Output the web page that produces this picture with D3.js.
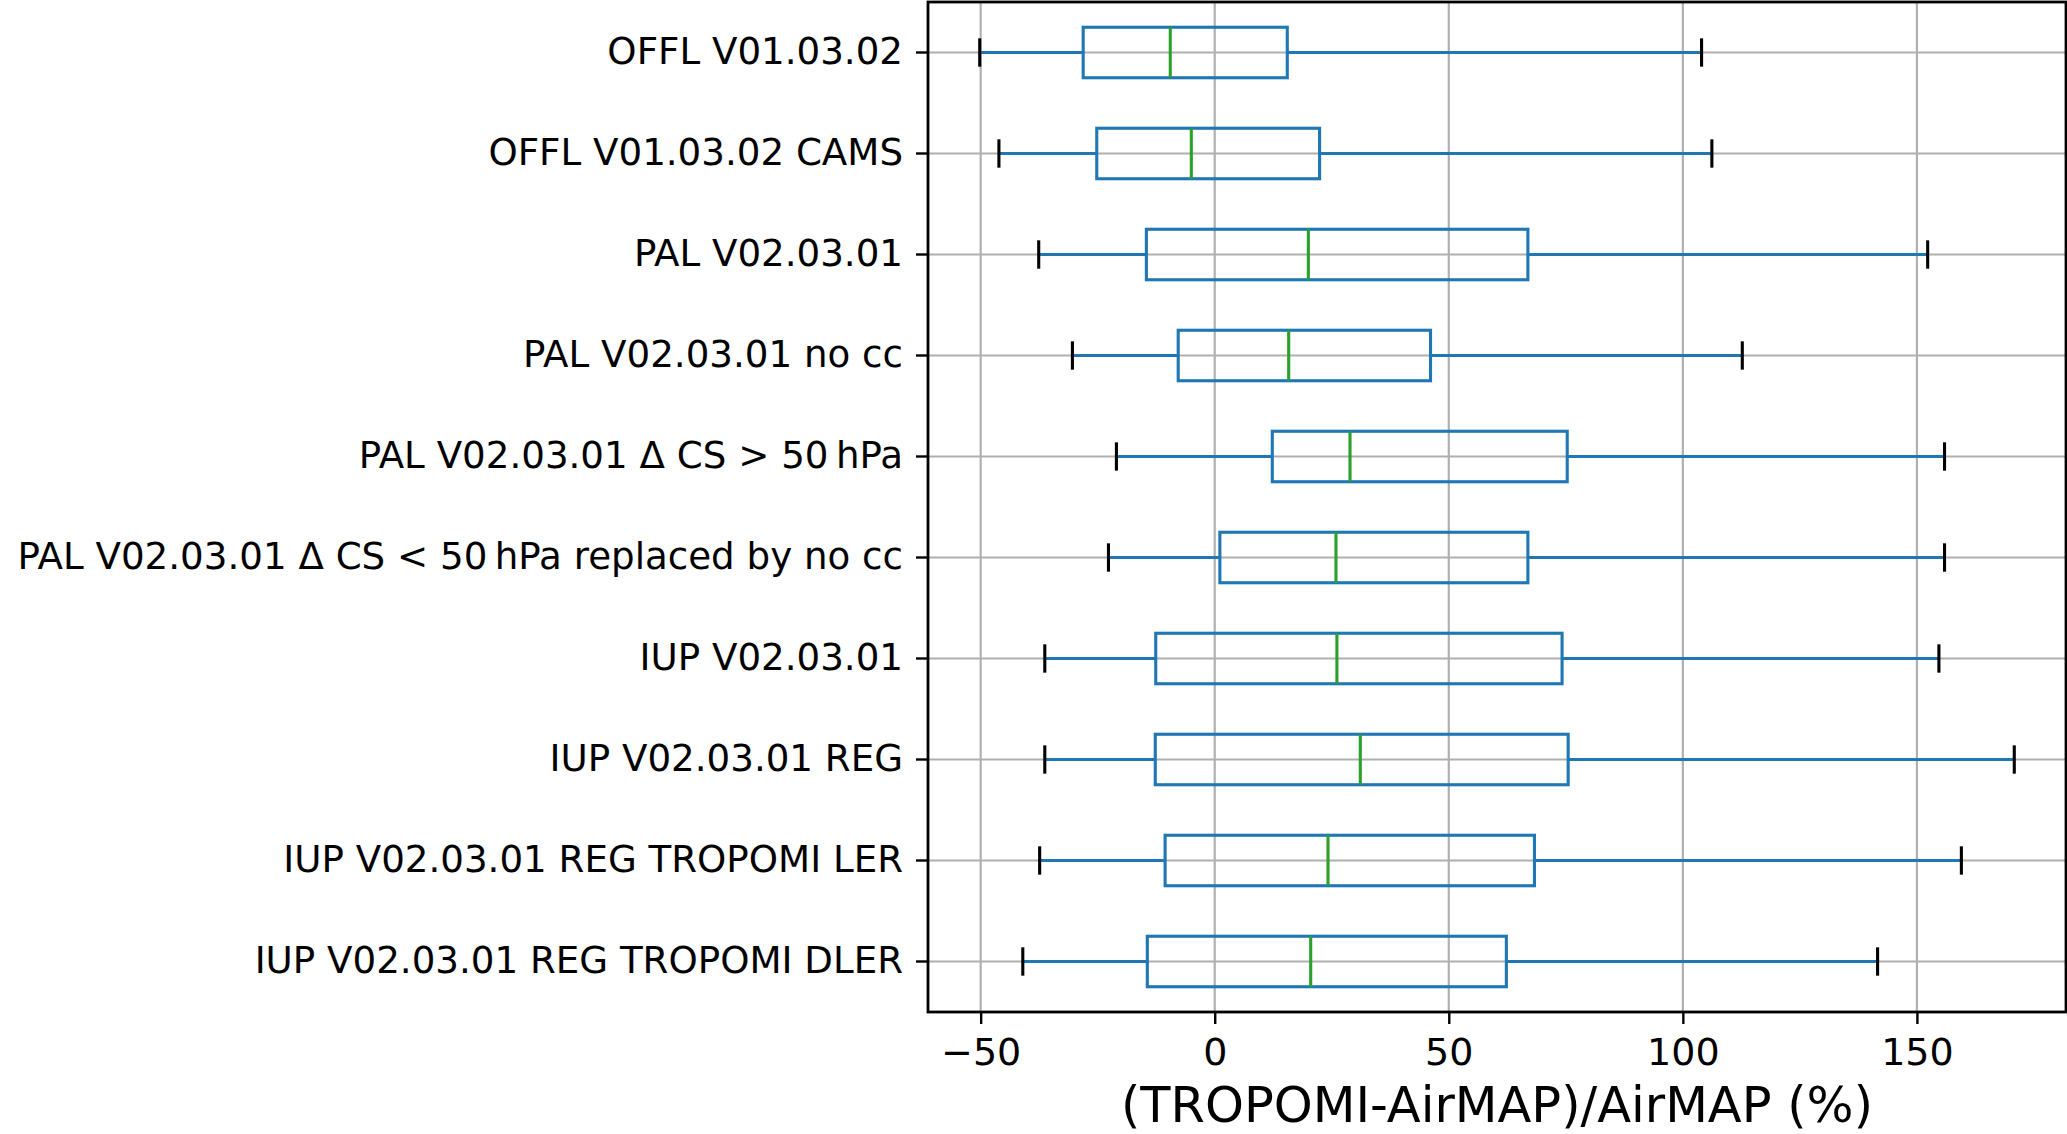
<!DOCTYPE html>
<html lang="en">

<head>
    <meta charset="UTF-8" />
    <script src="https://d3js.org/d3.v7.min.js"></script>
    <title>Boxplot TROPOMI vs AirMAP</title>
    <style>
        body {
            margin: 0;
            background: white;
        }

        text {
            font-family: "DejaVu Sans", sans-serif;
            fill: #000;
        }

        .grid line {
            stroke: #b0b0b0;
            stroke-width: 2.2;
        }

        .axis path,
        .axis line {
            stroke: #000;
            stroke-width: 2.4;
        }

        .axis .domain {
            display: none;
        }

        .frame {
            fill: none;
            stroke: #000;
            stroke-width: 2.8;
        }
    </style>
</head>

<body>
    <svg id="chart" width="2067" height="1134"></svg>
    <script>
        // labels top to bottom
        const labels = [
            "OFFL V01.03.02",
            "OFFL V01.03.02 CAMS",
            "PAL V02.03.01",
            "PAL V02.03.01 no cc",
            "PAL V02.03.01 \u0394 CS > 50\u2009hPa",
            "PAL V02.03.01 \u0394 CS < 50\u2009hPa replaced by no cc",
            "IUP V02.03.01",
            "IUP V02.03.01 REG",
            "IUP V02.03.01 REG TROPOMI LER",
            "IUP V02.03.01 REG TROPOMI DLER"
        ];

        // box statistics (%)
        const whiskerLow = [-50.2, -46.1, -37.6, -30.4, -21.0, -22.7, -36.3, -36.3, -37.4, -41.0];
        const q1 = [-28.1, -25.2, -14.6, -7.8, 12.3, 1.1, -12.6, -12.7, -10.6, -14.4];
        const medians = [-9.5, -5.0, 20.0, 15.8, 28.9, 25.9, 26.1, 31.1, 24.2, 20.5];
        const q3 = [15.5, 22.4, 66.9, 46.1, 75.3, 66.9, 74.2, 75.5, 68.3, 62.3];
        const whiskerHigh = [104.0, 106.2, 152.3, 112.7, 155.9, 155.9, 154.7, 170.8, 159.5, 141.6];

        const xTicks = [-50, 0, 50, 100, 150];
        const xLabel = "(TROPOMI-AirMAP)/AirMAP (%)";

        const boxes = labels.map((name, i) => ({
            name: name,
            lo: whiskerLow[i],
            q1: q1[i],
            med: medians[i],
            q3: q3[i],
            hi: whiskerHigh[i]
        }));

        const svg = d3.select("#chart");
        const margin = { left: 928, right: 1, top: 2, bottom: 122 };
        const width = +svg.attr("width") - margin.left - margin.right;
        const height = +svg.attr("height") - margin.top - margin.bottom;

        const g = svg.append("g")
            .attr("transform", `translate(${margin.left},${margin.top})`);

        // matplotlib-like 5% margin on the data range
        const lo = d3.min(whiskerLow), hi = d3.max(whiskerHigh);
        const pad = (hi - lo) * 0.05;
        const x = d3.scaleLinear().domain([lo - pad, hi + pad]).range([0, width]);

        const y = d3.scaleBand().domain(labels).range([0, height]).paddingInner(0).paddingOuter(0);
        const bw = y.bandwidth();
        const yc = d => y(d) + bw / 2;

        // grid
        g.append("g").attr("class", "grid")
            .selectAll("line.v")
            .data(xTicks)
            .join("line")
            .attr("x1", d => x(d)).attr("x2", d => x(d))
            .attr("y1", 0).attr("y2", height);

        g.append("g").attr("class", "grid")
            .selectAll("line.h")
            .data(labels)
            .join("line")
            .attr("x1", 0).attr("x2", width)
            .attr("y1", d => yc(d)).attr("y2", d => yc(d));

        // boxes
        const bx = g.selectAll("g.box")
            .data(boxes)
            .join("g")
            .attr("class", "box");

        const blue = "#1f77b4";
        const lw = 3.1;

        // whiskers
        bx.append("line")
            .attr("x1", d => x(d.lo)).attr("x2", d => x(d.q1))
            .attr("y1", d => yc(d.name)).attr("y2", d => yc(d.name))
            .attr("stroke", blue).attr("stroke-width", lw);
        bx.append("line")
            .attr("x1", d => x(d.q3)).attr("x2", d => x(d.hi))
            .attr("y1", d => yc(d.name)).attr("y2", d => yc(d.name))
            .attr("stroke", blue).attr("stroke-width", lw);

        // caps
        bx.selectAll("line.cap")
            .data(d => [{ v: d.lo, name: d.name }, { v: d.hi, name: d.name }])
            .join("line")
            .attr("class", "cap")
            .attr("x1", d => x(d.v)).attr("x2", d => x(d.v))
            .attr("y1", d => yc(d.name) - bw * 0.125).attr("y2", d => yc(d.name) + bw * 0.125)
            .attr("stroke", "#000").attr("stroke-width", lw)
            .attr("stroke-linecap", "square");

        // box
        bx.append("rect")
            .attr("x", d => x(d.q1))
            .attr("width", d => x(d.q3) - x(d.q1))
            .attr("y", d => yc(d.name) - bw * 0.25)
            .attr("height", bw * 0.5)
            .attr("fill", "none")
            .attr("stroke", blue).attr("stroke-width", lw);

        // median
        bx.append("line")
            .attr("x1", d => x(d.med)).attr("x2", d => x(d.med))
            .attr("y1", d => yc(d.name) - bw * 0.25).attr("y2", d => yc(d.name) + bw * 0.25)
            .attr("stroke", "#2ca02c").attr("stroke-width", lw);

        // axes
        const xAxis = g.append("g")
            .attr("class", "axis")
            .attr("transform", `translate(0,${height})`)
            .call(d3.axisBottom(x).tickValues(xTicks).tickSize(12).tickPadding(14));
        xAxis.selectAll("text").style("font-size", "38px");

        const yAxis = g.append("g")
            .attr("class", "axis")
            .call(d3.axisLeft(y).tickSize(12).tickPadding(13));
        yAxis.selectAll("text").style("font-size", "37.2px");

        g.append("rect")
            .attr("class", "frame")
            .attr("width", width)
            .attr("height", height);

        // x label
        svg.append("text")
            .attr("x", margin.left + width / 2)
            .attr("y", 1122)
            .attr("text-anchor", "middle")
            .style("font-size", "49.5px")
            .text(xLabel);
    </script>
</body>

</html>
